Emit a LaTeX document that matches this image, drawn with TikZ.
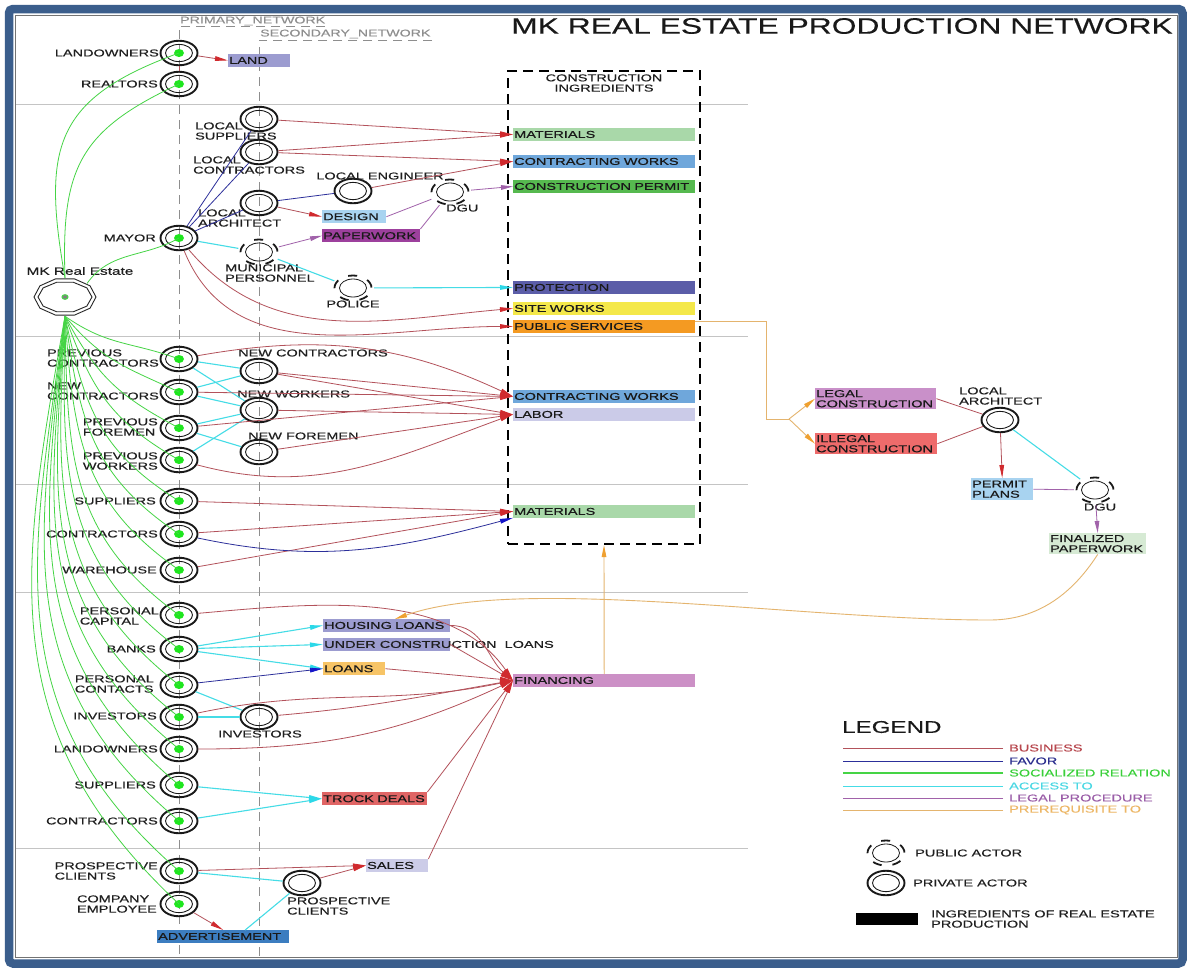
\documentclass[tikz,border=0pt]{standalone}
\usepackage{fontspec}
\newfontfamily\lsfam[FakeStretch=1.45,FakeBold=0.4]{Liberation Sans}
\newfontfamily\tlfam[FakeStretch=1.42,FakeBold=0.3]{Liberation Sans}
\usetikzlibrary{arrows.meta,shapes.geometric,calc}

\newcommand{\labfont}{\lsfam\fontsize{10}{10.2}\selectfont}
\newcommand{\ttlfont}{\tlfam\fontsize{22.4}{24}\selectfont}
\newcommand{\legfont}{\tlfam\fontsize{17}{19}\selectfont}
\newcommand{\mkfont}{\lsfam\fontsize{10.6}{12}\selectfont}
\newcommand{\netfont}{\lsfam\fontsize{9.8}{10}\selectfont}

% frame and guides
\definecolor{frameblue}{HTML}{3B5E8C}
\definecolor{sepgray}{HTML}{C4C4C4}
\definecolor{netgray}{HTML}{8E8E8E}
\definecolor{dotgreen}{HTML}{1EE61E}
% relation colours
\definecolor{cSoc}{HTML}{45D445}
\definecolor{cBiz}{HTML}{B3525B}
\definecolor{cBizTip}{HTML}{D02A2E}
\definecolor{cFav}{HTML}{2C2F9A}
\definecolor{cFavTip}{HTML}{1515C8}
\definecolor{cAcc}{HTML}{45DCE6}
\definecolor{cAccTip}{HTML}{2CD8E8}
\definecolor{cLeg}{HTML}{A162AA}
\definecolor{cPre}{HTML}{E4B46E}
\definecolor{cPreTip}{HTML}{EFA030}
% ingredient fills
\definecolor{fLand}{HTML}{9C9CD0}
\definecolor{fMat}{HTML}{A9D8A9}
\definecolor{fCW}{HTML}{6FA7DB}
\definecolor{fPermit}{HTML}{56B94F}
\definecolor{fDesign}{HTML}{A8D3F0}
\definecolor{fPaper}{HTML}{9D409D}
\definecolor{fProt}{HTML}{5B5DA8}
\definecolor{fSite}{HTML}{F4E84A}
\definecolor{fPubS}{HTML}{F49A22}
\definecolor{fLabor}{HTML}{CBCBE8}
\definecolor{fFin}{HTML}{CC90C6}
\definecolor{fLoanB}{HTML}{9C9CD0}
\definecolor{fLoans}{HTML}{F7C466}
\definecolor{fTrock}{HTML}{E06565}
\definecolor{fSales}{HTML}{CCCCE8}
\definecolor{fAdv}{HTML}{3C7DC0}
\definecolor{fLegal}{HTML}{C990C9}
\definecolor{fIllegal}{HTML}{EE6B6B}
\definecolor{fPPlans}{HTML}{A8D3F0}
\definecolor{fFinal}{HTML}{D6EAD4}
% legend text colours
\definecolor{tBiz}{HTML}{B8474E}
\definecolor{tFav}{HTML}{2B2E8E}
\definecolor{tSoc}{HTML}{3BD03B}
\definecolor{tAcc}{HTML}{4AD8E4}
\definecolor{tLeg}{HTML}{9B5EA8}
\definecolor{tPre}{HTML}{EDB766}

\tikzset{
  prv/.style={ellipse, draw=black!90, line width=1.9pt, minimum width=37pt, minimum height=24.5pt, inner sep=0pt,
    path picture={\draw[black!90, line width=0.9pt] (path picture bounding box.center) ellipse [x radius=13.5, y radius=8.6];}},
  prm/.style={ellipse, draw=black!90, line width=1.9pt, minimum width=37pt, minimum height=24.5pt, inner sep=0pt,
    path picture={\draw[black!90, line width=0.9pt] (path picture bounding box.center) ellipse [x radius=13.5, y radius=8.6];
      \fill[dotgreen] (path picture bounding box.center) ellipse [x radius=5, y radius=4];}},
  pub/.style={ellipse, minimum width=42pt, minimum height=30pt, inner sep=0pt,
    path picture={\draw[black!90, line width=0.8pt] (path picture bounding box.center) ellipse [x radius=13.5, y radius=9];
      \draw[black!90, line width=1.8pt, dash pattern=on 9pt off 10.9pt, dash phase=19.4pt] (path picture bounding box.center) ellipse [x radius=18.5, y radius=12.5];}},
  lab/.style={font=\labfont, text=black!88, inner sep=0pt, align=left},
  ibox/.style={rectangle, anchor=north west, inner xsep=1pt, inner ysep=0pt, minimum height=12.5pt, align=left, font=\labfont, text=black!90},
  soc/.style={draw=cSoc, line width=0.8pt},
  biz/.style={draw=cBiz, line width=0.8pt},
  bizar/.style={biz, -{Triangle[length=13pt, width=4.6pt, color=cBizTip]}},
  fav/.style={draw=cFav, line width=0.8pt},
  favar/.style={fav, -{Triangle[length=13pt, width=4.6pt, color=cFavTip]}},
  acc/.style={draw=cAcc, line width=1.1pt},
  accar/.style={acc, -{Triangle[length=13pt, width=4.6pt, color=cAccTip]}},
  leg/.style={draw=cLeg, line width=0.8pt},
  legar/.style={leg, -{Triangle[length=12pt, width=4.6pt, color=cLeg]}},
  pre/.style={draw=cPre, line width=0.9pt},
  prear/.style={pre, -{Triangle[length=12pt, width=4.6pt, color=cPreTip]}},
  sepline/.style={draw=sepgray, line width=0.8pt},
  netline/.style={draw=netgray, line width=0.7pt, dash pattern=on 9pt off 6pt}
}

\begin{document}
\begin{tikzpicture}[x=1pt,y=1pt]
\useasboundingbox (0,0) rectangle (1189,-967);
\fill[white] (0,0) rectangle (1189,-967);

% outer frame
\draw[frameblue, line width=8.5pt, rounded corners=4pt] (9,-9) rectangle (1182.5,-963.5);
\draw[black!55, line width=1pt] (15,-15) rectangle (1177,-957.5);

% section separators
\foreach \y in {104,336,484,592,848}
  \draw[sepline] (16,-\y) -- (748,-\y);

% network guides
\draw[netline] (325,-26) -- (179,-26) -- (179,-957);
\draw[netline] (432,-40) -- (259,-40) -- (259,-957);
\node[font=\netfont, text=netgray, anchor=west, inner sep=0pt] (t-prim) at (180,-21) {PRIMARY\_NETWORK};
\node[font=\netfont, text=netgray, anchor=west, inner sep=0pt] (t-sec) at (260,-34) {SECONDARY\_NETWORK};

% title
\node[font=\ttlfont, text=black!90, anchor=east, inner sep=0pt] (title) at (1173,-26) {MK REAL ESTATE PRODUCTION NETWORK};

% construction ingredients frame
\node[draw=black, line width=2.2pt, dash pattern=on 10pt off 6pt, minimum width=192pt, minimum height=473pt, inner sep=0pt] (cibox) at (604,-307.5) {};
\node[lab, align=center] (t-ci) at (604,-83) {CONSTRUCTION\\INGREDIENTS};

% MK Real Estate hub
\node[ellipse, minimum width=62pt, minimum height=38pt, inner sep=0pt] (mk) at (65,-297) {};
\draw[black!85, line width=0.9pt] plot[samples=11, domain=0:360, variable=\t] ({65+31*cos(\t)}, {-297+19*sin(\t)}) -- cycle;
\draw[black!85, line width=0.9pt] plot[samples=11, domain=0:360, variable=\t] ({65+27*cos(\t)}, {-297+15.5*sin(\t)}) -- cycle;
\draw[cSoc, line width=1pt, fill=black!50] (mk.center) ellipse [x radius=3, y radius=2.3];
\node[font=\mkfont, text=black!88, inner sep=0pt] (t-mk) at (80,-271) {MK Real Estate};

% primary actors
\foreach \n/\y in {lo1/53, re1/84, mayor/238, pc/359, nc1/392, pf/428, pw/460, sup1/501, con1/534, ware/570,
  pcap/615, banks/649, pcon/685, inv1/717, lo2/749, sup2/785, con2/821, pcl1/871, emp/904}
  \node[prm] (\n) at (179,-\y) {};

% secondary actors
\node[prv] (lsup) at (259,-119) {};
\node[prv] (lcon) at (259,-152) {};
\node[prv] (larch) at (259,-203) {};
\node[prv] (leng) at (353,-191) {};
\node[pub] (mun) at (259,-252) {};
\node[pub] (dgu1) at (450,-192) {};
\node[pub] (police) at (353,-288) {};
\node[prv] (nc2) at (259,-371) {};
\node[prv] (nw) at (259,-410) {};
\node[prv] (nf) at (259,-452) {};
\node[prv] (inv2) at (259,-717) {};
\node[prv] (pcl2) at (302,-883) {};
\node[prv] (larch2) at (1000,-420) {};
\node[pub] (dgu2) at (1095,-490) {};

% actor labels
\node[lab, anchor=east] (t-lo1) at (159,-53) {LANDOWNERS};
\node[lab, anchor=east] (t-re1) at (158,-84) {REALTORS};
\node[lab, anchor=east] (t-mayor) at (156,-238) {MAYOR};
\node[lab, anchor=east] (t-pc) at (159,-358) {PREVIOUS\\CONTRACTORS};
\node[lab, anchor=east] (t-nc1) at (159,-391) {NEW\\CONTRACTORS};
\node[lab, anchor=east] (t-pf) at (158,-427) {PREVIOUS\\FOREMEN};
\node[lab, anchor=east] (t-pw) at (158,-461) {PREVIOUS\\WORKERS};
\node[lab, anchor=east] (t-sup1) at (156,-501) {SUPPLIERS};
\node[lab, anchor=east] (t-con1) at (158,-534) {CONTRACTORS};
\node[lab, anchor=east] (t-ware) at (157,-570) {WAREHOUSE};
\node[lab, anchor=east] (t-pcap) at (159,-616) {PERSONAL\\CAPITAL};
\node[lab, anchor=east] (t-banks) at (156,-649) {BANKS};
\node[lab, anchor=east] (t-pcon) at (154,-684) {PERSONAL\\CONTACTS};
\node[lab, anchor=east] (t-inv1) at (157,-716) {INVESTORS};
\node[lab, anchor=east] (t-lo2) at (158,-749) {LANDOWNERS};
\node[lab, anchor=east] (t-sup2) at (156,-785) {SUPPLIERS};
\node[lab, anchor=east] (t-con2) at (158,-821) {CONTRACTORS};
\node[lab, anchor=east] (t-pcl1) at (158,-871) {PROSPECTIVE\\CLIENTS};
\node[lab, anchor=east] (t-emp) at (157,-904) {COMPANY\\EMPLOYEE};

\node[lab, anchor=west] (t-lsup) at (195,-131) {LOCAL\\SUPPLIERS};
\node[lab, anchor=west] (t-lcon) at (193,-165) {LOCAL\\CONTRACTORS};
\node[lab, anchor=west] (t-larch) at (198,-218) {LOCAL\\ARCHITECT};
\node[lab] (t-leng) at (380,-176) {LOCAL ENGINEER};
\node[lab, anchor=west] (t-dgu1) at (446,-208) {DGU};
\node[lab, anchor=west] (t-mun) at (225,-273) {MUNICIPAL\\PERSONNEL};
\node[lab] (t-police) at (353,-304) {POLICE};
\node[lab, anchor=west] (t-nc2) at (238,-353) {NEW CONTRACTORS};
\node[lab, anchor=west] (t-nw) at (237,-394) {NEW WORKERS};
\node[lab, anchor=west] (t-nf) at (248,-436) {NEW FOREMEN};
\node[lab] (t-inv2) at (260,-734) {INVESTORS};
\node[lab, anchor=west] (t-pcl2) at (287,-906) {PROSPECTIVE\\CLIENTS};
\node[lab, anchor=west] (t-larch2) at (959,-396) {LOCAL\\ARCHITECT};
\node[lab] (t-dgu2) at (1100,-507) {DGU};

% ingredient and resource boxes
\node[ibox, fill=fLand, minimum width=62pt, text width=60pt] (land) at (228,-54) {LAND};
\node[ibox, fill=fDesign, minimum width=64pt, minimum height=13pt, text width=62pt] (design) at (322,-210) {DESIGN};
\node[ibox, fill=fPaper, minimum width=98pt, minimum height=13pt, text width=96pt] (paper) at (322,-229) {PAPERWORK};
\node[ibox, fill=fMat, minimum width=182pt, text width=180pt] (mat1) at (513,-128) {MATERIALS};
\node[ibox, fill=fCW, minimum width=182pt, text width=180pt] (cw1) at (513,-155) {CONTRACTING~WORKS};
\node[ibox, fill=fPermit, minimum width=182pt, text width=180pt] (permit) at (513,-180) {CONSTRUCTION~PERMIT};
\node[ibox, fill=fProt, minimum width=182pt, text width=180pt] (prot) at (513,-281) {PROTECTION};
\node[ibox, fill=fSite, minimum width=182pt, text width=180pt] (site) at (513,-302) {SITE~WORKS};
\node[ibox, fill=fPubS, minimum width=182pt, text width=180pt] (pubs) at (513,-320) {PUBLIC~SERVICES};
\node[ibox, fill=fCW, minimum width=182pt, text width=180pt] (cw2) at (513,-390) {CONTRACTING~WORKS};
\node[ibox, fill=fLabor, minimum width=182pt, text width=180pt] (labor) at (513,-408) {LABOR};
\node[ibox, fill=fMat, minimum width=182pt, text width=180pt] (mat2) at (513,-505) {MATERIALS};
\node[ibox, fill=fFin, minimum width=182pt, text width=180pt] (fin) at (513,-674) {FINANCING};
\node[ibox, fill=fLoanB, minimum width=127pt, text width=125pt] (hl) at (323,-619) {HOUSING~LOANS};
\node[ibox, fill=fLoanB, minimum width=127pt, text width=125pt] (ucl) at (323,-638) {};
\node[lab, anchor=west] (t-ucl) at ([xshift=1pt]ucl.west) {UNDER CONSTRUCTION\ \ LOANS};
\node[ibox, fill=fLoans, minimum width=62pt, minimum height=13pt, text width=60pt] (loans) at (323,-662) {LOANS};
\node[ibox, fill=fTrock, minimum width=105pt, minimum height=13pt, text width=103pt] (trock) at (322,-792) {TROCK~DEALS};
\node[ibox, fill=fSales, minimum width=62pt, text width=60pt] (sales) at (366,-859) {SALES};
\node[ibox, fill=fAdv, minimum width=132pt, text width=130pt] (adv) at (157,-930) {ADVERTISEMENT};
\node[ibox, fill=fLegal, minimum width=121pt, minimum height=21pt, text width=119pt] (legal) at (815,-388) {LEGAL\\CONSTRUCTION};
\node[ibox, fill=fIllegal, minimum width=122pt, minimum height=21pt, text width=120pt] (illegal) at (815,-433) {ILLEGAL\\CONSTRUCTION};
\node[ibox, fill=fPPlans, minimum width=62pt, minimum height=22pt, text width=60pt] (pplans) at (971,-478) {PERMIT\\PLANS};
\node[ibox, fill=fFinal, minimum width=97pt, minimum height=21pt, text width=95pt] (final) at (1049,-533) {FINALIZED\\PAPERWORK};

% socialized relations from the hub
\draw[soc] (mk.north) to[out=100, in=200, looseness=1.35] (lo1.center);
\draw[soc] (mk.north) to[out=92, in=205, looseness=1.25] (re1.center);
\draw[soc] (mk.north east) to[out=55, in=210] (mayor.center);
\foreach \n/\o/\i in {pc/-35/160, nc1/-50/155, pf/-62/152, pw/-70/150, sup1/-78/148, con1/-82/146, ware/-86/145,
  pcap/-89/144, banks/-91/143, pcon/-93/142, inv1/-94/142, lo2/-95/141, sup2/-96/140, con2/-97/140, pcl1/-98/139, emp/-100/137}
  \draw[soc] (mk.south) to[out=\o, in=\i, looseness=1.1] (\n.center);

% land and local actors
\draw[bizar] (lo1) -- (land.west);
\draw[biz] (lo1) -- (re1);
\draw[fav] (mayor) -- (lsup);
\draw[fav] (mayor) -- (lcon);
\draw[fav] (mayor) -- (larch);
\draw[fav] (larch) -- (leng);
\draw[bizar] (lsup) -- (mat1.west);
\draw[bizar] (lcon) -- (mat1.west);
\draw[bizar] (lcon) -- (cw1.west);
\draw[bizar] (leng) -- (cw1.west);
\draw[bizar] (larch) -- (design.west);
\draw[acc] (mayor) -- (mun);
\draw[acc] (mun) -- (police);
\draw[accar] (police) -- (prot.west);
\draw[legar] (mun) -- (paper.west);
\draw[leg] (design.east) -- (dgu1);
\draw[leg] (paper.north east) -- (dgu1);
\draw[legar] (dgu1) -- (permit.west);
\draw[bizar] (mayor) to[out=-50, in=185] (site.west);
\draw[bizar] (mayor) to[out=-68, in=180] (pubs.west);

% contractors, foremen and workers
\draw[acc] (pc) -- (nc2);
\draw[acc] (pc) -- (nw);
\draw[acc] (nc1) -- (nc2);
\draw[acc] (nc1) -- (nw);
\draw[acc] (pf) -- (nw);
\draw[acc] (pf) -- (nf);
\draw[acc] (pw) -- (nw);
\draw[bizar] (pc) to[out=10, in=155] (cw2.west);
\draw[bizar] (nc2) -- (cw2.west);
\draw[bizar] (nc2) -- (labor.west);
\draw[bizar] (nc1) -- (cw2.west);
\draw[bizar] (nw) -- (labor.west);
\draw[bizar] (pf) -- (cw2.west);
\draw[bizar] (nf) -- (labor.west);
\draw[bizar] (pw) to[out=-15, in=200] (labor.west);

% materials
\draw[bizar] (sup1) -- (mat2.west);
\draw[bizar] (con1) -- (mat2.west);
\draw[bizar] (ware) -- (mat2.west);
\draw[favar] (con1) to[out=-12, in=195] (mat2.south west);

% financing
\draw[bizar] (pcap) to[out=5, in=125, looseness=0.9] (fin.west);
\draw[accar] (banks) -- (hl.west);
\draw[accar] (banks) -- (ucl.west);
\draw[accar] (banks) -- (loans.west);
\draw[favar] (pcon) -- (loans.west);
\draw[acc] (pcon) -- (inv2);
\draw[acc] (inv1) -- (inv2);
\draw[bizar] (hl.east) to[out=0, in=140] (fin.west);
\draw[bizar] (ucl.east) -- (fin.west);
\draw[bizar] (loans.east) -- (fin.west);
\draw[bizar] (inv1) to[out=12, in=192] (fin.west);
\draw[bizar] (inv2) to[out=5, in=190] (fin.west);
\draw[bizar] (lo2) to[out=0, in=205] (fin.west);
\draw[accar] (sup2) -- (trock.west);
\draw[accar] (con2) -- (trock.west);
\draw[bizar] (trock.north east) -- (fin.west);
\draw[bizar] (sales.north east) -- (fin.west);
\draw[prear] (fin.north) -- (cibox.south);

% sales and advertising
\draw[bizar] (pcl1) -- (sales.west);
\draw[acc] (pcl1) -- (pcl2);
\draw[bizar] (pcl2) -- (sales.west);
\draw[bizar] (emp) -- (adv.north);
\draw[acc] ($(adv.north)+(22,0)$) -- (pcl2);

% construction legality branch
\coordinate (pbr) at (789,-419);
\draw[pre] ($(pubs.east)+(0,5)$) -| (766,-419) -- (pbr);
\draw[prear] (pbr) -- (legal.west);
\draw[prear] (pbr) -- (illegal.west);
\draw[biz] (legal.east) -- (larch2);
\draw[biz] (illegal.east) -- (larch2);
\draw[bizar] (larch2) -- (pplans.north);
\draw[acc] (larch2) -- (dgu2);
\draw[leg] (pplans.east) -- (dgu2);
\draw[legar] (dgu2) -- (final.north);
\coordinate (hltop) at (395,-619);
\draw[prear] (final.south) .. controls (1078,-585) and (1045,-620) .. (990,-620)
  .. controls (800,-620) and (520,-575) .. (hltop);

% legend
\node[font=\legfont, text=black!90, anchor=west, inner sep=0pt] (lg-title) at (842,-727) {LEGEND};
\node[lab, anchor=west, text=tBiz] (lg1) at (1009,-748) {BUSINESS};
\node[lab, anchor=west, text=tFav] (lg2) at (1009,-761) {FAVOR};
\node[lab, anchor=west, text=tSoc] (lg3) at (1009,-773) {SOCIALIZED RELATION};
\node[lab, anchor=west, text=tAcc] (lg4) at (1009,-786) {ACCESS TO};
\node[lab, anchor=west, text=tLeg] (lg5) at (1009,-798) {LEGAL PROCEDURE};
\node[lab, anchor=west, text=tPre] (lg6) at (1009,-810) {PREREQUISITE TO};
\draw[biz] (lg1.west) ++(-6,0) -- ++(-160,0);
\draw[fav] (lg2.west) ++(-6,0) -- ++(-160,0);
\draw[soc, line width=1.1pt] (lg3.west) ++(-6,0) -- ++(-160,0);
\draw[acc, line width=0.9pt] (lg4.west) ++(-6,0) -- ++(-160,0);
\draw[leg, line width=1pt] (lg5.west) ++(-6,0) -- ++(-160,0);
\draw[pre] (lg6.west) ++(-6,0) -- ++(-160,0);
\node[pub] (lgpub) at (886,-853) {};
\node[lab, anchor=west] (t-lgpub) at (915,-853) {PUBLIC ACTOR};
\node[prv] (lgprv) at (886,-883) {};
\node[lab, anchor=west] (t-lgprv) at (913,-883) {PRIVATE ACTOR};
\node[fill=black, minimum width=62pt, minimum height=12pt, inner sep=0pt, anchor=north west] (lgbox) at (856,-913) {};
\node[lab, anchor=west] (t-lgbox) at (931,-919) {INGREDIENTS OF REAL ESTATE\\PRODUCTION};
\end{tikzpicture}
\end{document}
